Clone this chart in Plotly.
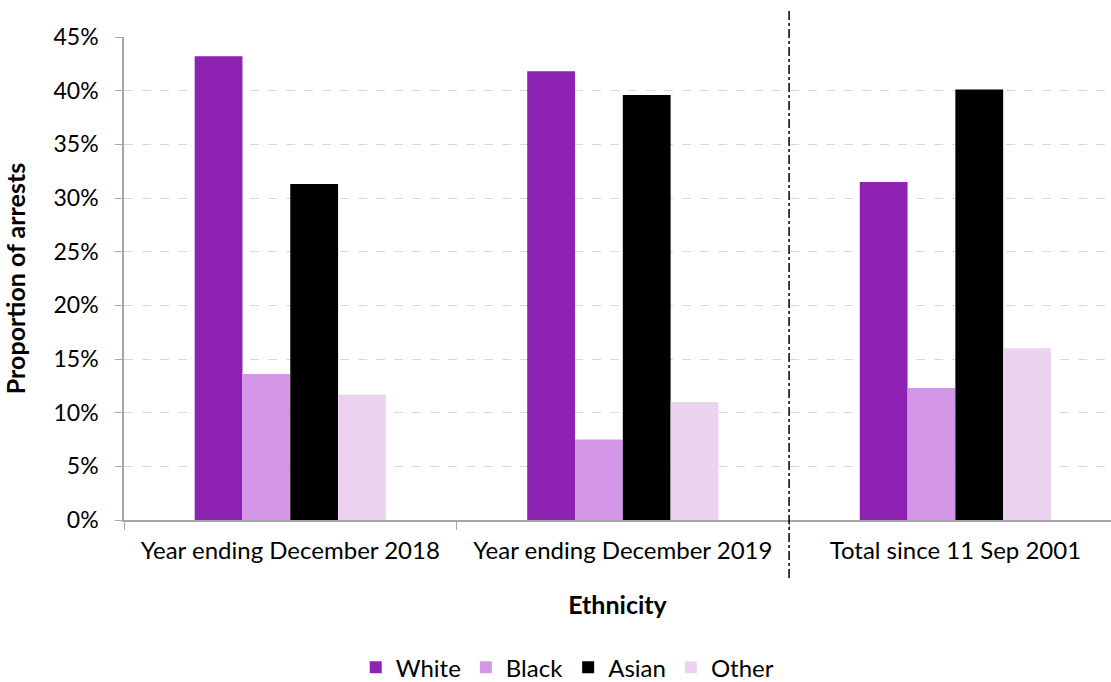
import plotly.graph_objects as go

categories = ["Year ending December 2018", "Year ending December 2019", "Total since 11 Sep 2001"]
series_names = ["White", "Black", "Asian", "Other"]
white = [43.2, 41.8, 31.5]
black = [13.6, 7.5, 12.3]
asian = [31.3, 39.6, 40.1]
other = [11.7, 11.0, 16.0]
colors = ["#8E22B2", "#D497E8", "#000000", "#EBD3F0"]
y_ticks = [0, 5, 10, 15, 20, 25, 30, 35, 40, 45]
y_labels = [f"{v}%" for v in y_ticks]

font = "Lato"

fig = go.Figure()
for name, vals, col in zip(series_names, [white, black, asian, other], colors):
    fig.add_trace(go.Bar(x=categories, y=vals, name=name, marker=dict(color=col, line=dict(width=0))))

fig.update_layout(
    width=1111, height=682,
    margin=dict(l=124, r=0, t=37, b=162),
    paper_bgcolor="white", plot_bgcolor="white",
    barmode="group", bargap=0.425, bargroupgap=0,
    font=dict(family=font, size=24, color="#000000"),
    showlegend=True,
    legend=dict(orientation="h", xref="container", yref="container", x=0.511, y=0.021,
                xanchor="center", yanchor="middle", font=dict(size=24),
                itemwidth=30, traceorder="normal"),
    xaxis=dict(
        range=[-0.5, 2.468], showline=True, linecolor="#a6a6a6", linewidth=1.5,
        ticks="outside", tickson="boundaries", ticklen=8, tickcolor="#a6a6a6",
        tickfont=dict(size=24), showgrid=False, ticklabelstandoff=8,
        title=dict(text="<b>Ethnicity</b>", font=dict(size=25), standoff=34),
    ),
    yaxis=dict(
        range=[0, 45], tickvals=y_ticks, ticktext=y_labels, showline=True,
        linecolor="#a6a6a6", linewidth=1.5, ticks="outside", ticklen=7,
        tickcolor="#a6a6a6", tickfont=dict(size=23), ticklabelstandoff=12,
        showgrid=True, gridcolor="#d9d9d9", griddash="dash", gridwidth=1,
        zeroline=False,
        title=dict(text="<b>Proportion of arrests</b>", font=dict(size=25), standoff=24),
    ),
)

fig.add_shape(type="line", xref="x", yref="paper", x0=1.5, x1=1.5, y0=-0.12, y1=1.056,
              line=dict(color="black", width=1.5, dash="dashdot"))

fig.write_html("out.html")
